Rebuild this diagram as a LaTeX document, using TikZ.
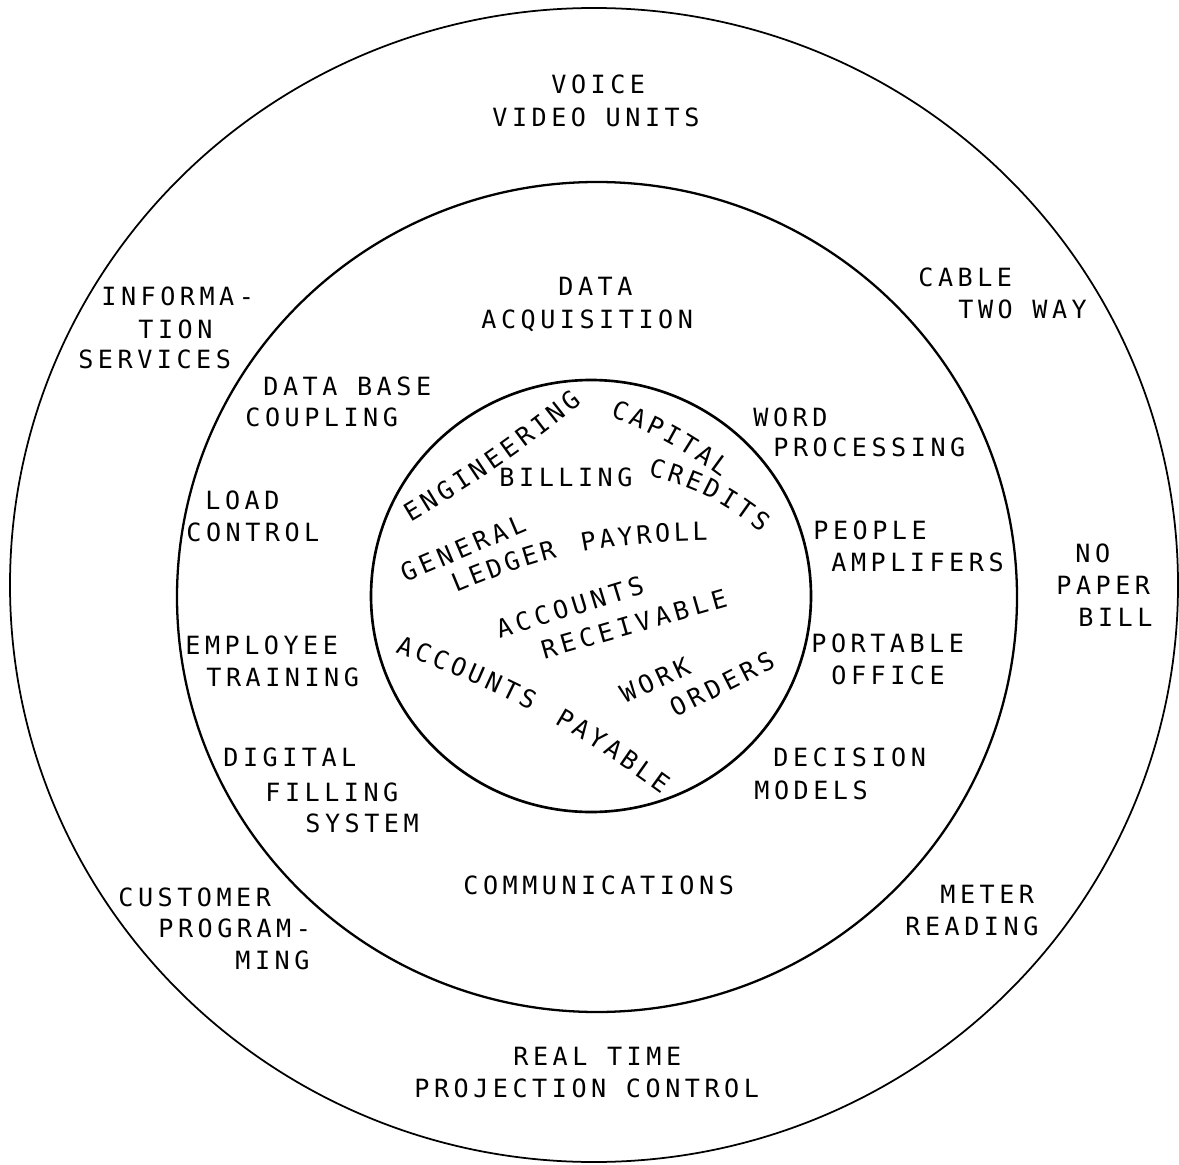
\documentclass[tikz,border=0pt]{standalone}
\usepackage{fontspec}
\newfontfamily\twfont[LetterSpace=18]{DejaVu Sans Mono}
\newcommand{\tw}{\twfont\fontsize{14.3pt}{18pt}\selectfont}
\usetikzlibrary{decorations.text}

\begin{document}
\begin{tikzpicture}[x=0.02cm, y=-0.02cm,
    lbl/.style={anchor=base west, inner sep=0pt, font=\tw},
    word/.style={inner sep=0pt, font=\tw},
    curved/.style={decorate, decoration={text along path, text align={fit to path}, raise=-0.183cm}}]
  \useasboundingbox (0,0) rectangle (1179,1165);
  % rings
  \draw [line width=1pt] (594,585) ellipse [x radius=584, y radius=577];
  \draw [line width=1.3pt] (597,597) ellipse [x radius=420, y radius=415];
  \draw [line width=1.5pt] (591,596) ellipse [x radius=220, y radius=216];
  % outer ring
  \node [lbl] (voice) at (551,94) {VOICE};
  \node [lbl] (video) at (492,127) {VIDEO UNITS};
  \node [lbl] (informa) at (101,306) {INFORMA-};
  \node [lbl] (tion) at (138,339) {TION};
  \node [lbl] (services) at (78,369) {SERVICES};
  \node [lbl] (cable) at (918,287) {CABLE};
  \node [lbl] (twoway) at (958,319) {TWO WAY};
  \node [lbl] (no) at (1075,562) {NO};
  \node [lbl] (paper) at (1056,594) {PAPER};
  \node [lbl] (bill) at (1078,626) {BILL};
  \node [lbl] (customer) at (118,906) {CUSTOMER};
  \node [lbl] (program) at (158,937) {PROGRAM-};
  \node [lbl] (ming) at (235,969) {MING};
  \node [lbl] (meter) at (940,903) {METER};
  \node [lbl] (reading) at (905,935) {READING};
  \node [lbl] (realtime) at (513,1065) {REAL TIME};
  \node [lbl] (projection) at (414,1097) {PROJECTION CONTROL};
  % middle ring
  \node [lbl] (data) at (558,296) {DATA};
  \node [lbl] (acquisition) at (481,329) {ACQUISITION};
  \node [lbl] (database) at (263,396) {DATA BASE};
  \node [lbl] (coupling) at (245,427) {COUPLING};
  \node [lbl] (load) at (205,509) {LOAD};
  \node [lbl] (control) at (186,541) {CONTROL};
  \node [lbl] (word) at (753,426) {WORD};
  \node [lbl] (processing) at (773,457) {PROCESSING};
  \node [lbl] (people) at (813,539) {PEOPLE};
  \node [lbl] (amplifers) at (831,571) {AMPLIFERS};
  \node [lbl] (employee) at (185,654) {EMPLOYEE};
  \node [lbl] (training) at (206,686) {TRAINING};
  \node [lbl] (portable) at (811,652) {PORTABLE};
  \node [lbl] (office) at (831,684) {OFFICE};
  \node [lbl] (digital) at (223,766) {DIGITAL};
  \node [lbl] (filling) at (265,801) {FILLING};
  \node [lbl] (system) at (305,832) {SYSTEM};
  \node [lbl] (decision) at (773,766) {DECISION};
  \node [lbl] (models) at (754,799) {MODELS};
  \node [lbl] (communications) at (463,894) {COMMUNICATIONS};
  % inner circle
  \node [word] (billing) at (566,477) {BILLING};
  \node [word, rotate=23] (general) at (463,548) {GENERAL};
  \node [word, rotate=17] (accounts) at (570,607) {ACCOUNTS};
  \node [word, rotate=16] (receivable) at (634,624) {RECEIVABLE};
  \node [word, rotate=25] (work) at (655,680) {WORK};
  \node [word, rotate=27] (orders) at (722,684) {ORDERS};
  \path [curved, decoration={text={|\tw|ENGINEERING}}] (405.8,514.3) to [bend right=4] (576.2,395.7);
  \path [curved, decoration={text={|\tw|CAPITAL}}] (613.4,408.4) to [bend left=8] (726.6,470.6);
  \path [curved, decoration={text={|\tw|CREDITS}}] (650.3,466.6) to [bend left=12] (766.7,525.4);
  \path [curved, decoration={text={|\tw|LEDGER PAYROLL}}] (452.6,584.5) to [bend left=11] (707.4,531.5);
  \path [curved, decoration={text={|\tw|ACCOUNTS PAYABLE}}] (398.4,643.5) to [bend left=8] (666.6,786.5);
\end{tikzpicture}
\end{document}
